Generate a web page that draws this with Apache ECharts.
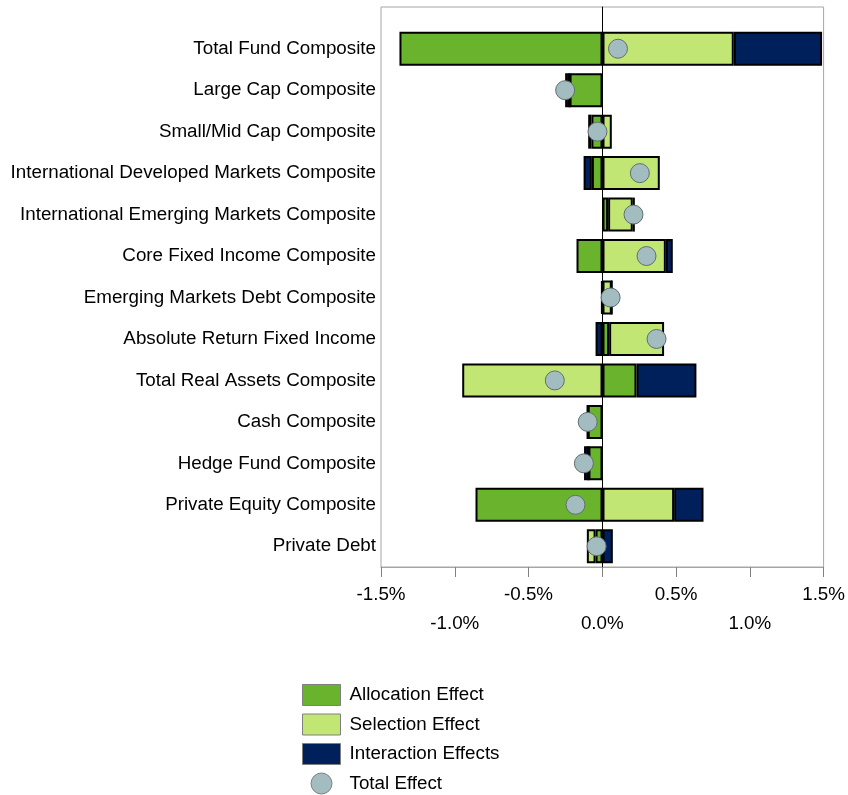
<!DOCTYPE html>
<html>
<head>
<meta charset="utf-8">
<script src="https://cdn.jsdelivr.net/npm/echarts@6/dist/echarts.min.js"></script>
<style>
  html, body { margin: 0; padding: 0; background: #fff; }
  #chart { width: 848px; height: 795px; }
</style>
</head>
<body>
<div id="chart"></div>
<script>
// Attribution effects by composite (percentage points)
const categories = [
  'Total Fund Composite',
  'Large Cap Composite',
  'Small/Mid Cap Composite',
  'International Developed Markets Composite',
  'International Emerging Markets Composite',
  'Core Fixed Income Composite',
  'Emerging Markets Debt Composite',
  'Absolute Return Fixed Income',
  'Total Real Assets Composite',
  'Cash Composite',
  'Hedge Fund Composite',
  'Private Equity Composite',
  'Private Debt'
];
const allocationEffect  = [-1.375, -0.223, -0.075, -0.072, 0.038, -0.176, -0.008, 0.045, 0.230, -0.100, -0.095, -0.860, -0.047];
const selectionEffect   = [ 0.889,  0.000,  0.063,  0.388, 0.167,  0.429,  0.063, 0.372, -0.950, 0.000,  0.000,  0.485, -0.059];
const interactionEffect = [ 0.598, -0.030, -0.022, -0.056, 0.014,  0.047,  0.000, -0.047, 0.406, 0.000, -0.030,  0.199,  0.070];
const totalEffect       = [ 0.105, -0.253, -0.034,  0.253, 0.210,  0.298,  0.055, 0.366, -0.323, -0.100, -0.126, -0.183, -0.040];
const axisTicks = [-1.5, -1.0, -0.5, 0.0, 0.5, 1.0, 1.5];

const FONT = 'Liberation Sans, Arial, sans-serif';
const FONT_SIZE = 18.8;
const TEXT_COLOR = '#000';
const X_MIN = axisTicks[0], X_MAX = axisTicks[axisTicks.length - 1];

const barStyle = (color) => ({ color: color, borderColor: '#000', borderWidth: 2 });

const chart = echarts.init(document.getElementById('chart'), null, { renderer: 'canvas' });

chart.setOption({
  animation: false,
  backgroundColor: '#fff',
  textStyle: { fontFamily: FONT },
  grid: [
    // frame with the value axis and the zero line
    { left: 381, top: 7, width: 443, height: 560, show: true, borderColor: '#a6a6a6', borderWidth: 1, containLabel: false },
    // bars
    { left: 381, top: 28, width: 443, height: 539, containLabel: false }
  ],
  xAxis: [
    {
      gridIndex: 0, type: 'value', min: X_MIN, max: X_MAX, interval: 0.5,
      splitLine: { show: false },
      axisLine: { show: true, onZero: false, lineStyle: { color: '#a6a6a6', width: 1 } },
      axisTick: { show: true, inside: false, length: 10, lineStyle: { color: '#808080' } },
      axisLabel: {
        margin: 13, color: TEXT_COLOR, fontSize: FONT_SIZE, fontFamily: FONT, lineHeight: 29,
        formatter: (v) => {
          const s = v.toFixed(1) + '%';
          // whole-number ticks are set on a second row
          return Math.abs(v - Math.round(v)) < 1e-9 ? '\n' + s : s;
        }
      }
    },
    { gridIndex: 1, type: 'value', min: X_MIN, max: X_MAX, show: false, splitLine: { show: false } }
  ],
  yAxis: [
    {
      gridIndex: 0, type: 'value', min: 0, max: 1,
      axisLine: { show: true, onZero: true, lineStyle: { color: '#000', width: 1 } },
      axisTick: { show: false }, axisLabel: { show: false }, splitLine: { show: false }
    },
    {
      gridIndex: 1, type: 'category', data: categories, inverse: true,
      axisLine: { show: false }, axisTick: { show: false }, splitLine: { show: false },
      axisLabel: { margin: 5, color: TEXT_COLOR, fontSize: FONT_SIZE, fontFamily: FONT }
    }
  ],
  legend: {
    orient: 'vertical', left: 302, top: 684, padding: 0, height: 160,
    itemWidth: 38, itemHeight: 21, itemGap: 7.5,
    textStyle: { color: TEXT_COLOR, fontSize: FONT_SIZE, fontFamily: FONT, lineHeight: 21, padding: [0, 0, 0, 4] },
    itemStyle: { borderColor: '#7f7f7f', borderWidth: 1 },
    data: [
      { name: 'Allocation Effect', icon: 'rect' },
      { name: 'Selection Effect', icon: 'rect' },
      { name: 'Interaction Effects', icon: 'rect' },
      { name: 'Total Effect', icon: 'circle' }
    ]
  },
  series: [
    {
      name: 'Allocation Effect', type: 'bar', stack: 'effects', xAxisIndex: 1, yAxisIndex: 1,
      barWidth: 34, data: allocationEffect, itemStyle: barStyle('#6ab42d')
    },
    {
      name: 'Selection Effect', type: 'bar', stack: 'effects', xAxisIndex: 1, yAxisIndex: 1,
      barWidth: 34, data: selectionEffect, itemStyle: barStyle('#c2e673')
    },
    {
      name: 'Interaction Effects', type: 'bar', stack: 'effects', xAxisIndex: 1, yAxisIndex: 1,
      barWidth: 34, data: interactionEffect, itemStyle: barStyle('#00205b')
    },
    {
      name: 'Total Effect', type: 'scatter', xAxisIndex: 1, yAxisIndex: 1,
      symbol: 'circle', symbolSize: 19, z: 5,
      data: totalEffect.map((v, i) => [v, categories[i]]),
      itemStyle: { color: '#a2bcc0', borderColor: '#5f6f72', borderWidth: 1, opacity: 1 }
    }
  ]
});
</script>
</body>
</html>
